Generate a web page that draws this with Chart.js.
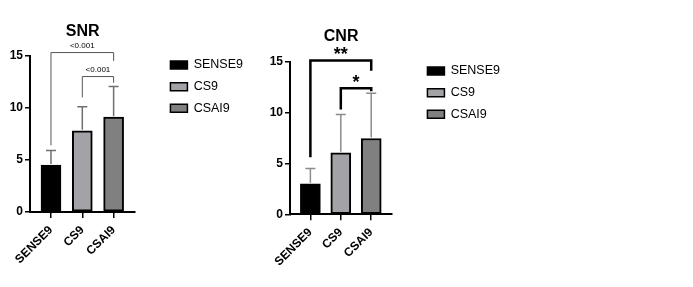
<!DOCTYPE html>
<html>
<head>
<meta charset="utf-8">
<script src="https://cdn.jsdelivr.net/npm/chart.js@4"></script>
<style>
  body { margin: 0; background: #fff; width: 693px; height: 287px; position: relative; overflow: hidden; }
  canvas { position: absolute; top: 0; }
  #snrChart { left: -347px; }
  #cnrChart { left: -90px; }
</style>
</head>
<body>
<canvas id="snrChart" width="600" height="287"></canvas>
<canvas id="cnrChart" width="600" height="287"></canvas>
<script>
    const categories = ["SENSE9", "CS9", "CSAI9"];
    const barColors = ["#000000", "#a3a3a7", "#808080"];
    const yTicks = [0, 5, 10, 15];

    const snrMeans = [4.5, 7.8, 9.1];
    const snrSdTop = [5.9, 10.1, 12.05];
    const snrPairs = [[0, 2], [1, 2]];
    const snrBracketY = [15.3, 13.0];
    const snrLegEnds = [[6.4, 14.5], [11.0, 12.4]];
    const snrLabels = ["<0.001", "<0.001"];

    const cnrMeans = [3.0, 6.05, 7.45];
    const cnrSdTop = [4.5, 9.8, 11.9];
    const cnrPairs = [[0, 2], [1, 2]];
    const cnrBracketY = [15.13, 12.4];
    const cnrLegEnds = [[5.6, 14.1], [10.3, 12.1]];
    const cnrLabels = ["**", "*"];

    Chart.defaults.font.family = 'Arial, "Liberation Sans", sans-serif';
    Chart.defaults.color = "#000";

    // error bars (SD, drawn upward only) + significance brackets
    const extrasPlugin = {
      id: "extras",
      afterDatasetsDraw(chart, args, opts) {
        const ctx = chart.ctx;
        const xs = chart.scales.x, ys = chart.scales.y;
        ctx.save();
        ctx.strokeStyle = opts.errColor;
        ctx.lineWidth = 1.5;
        opts.means.forEach((m, i) => {
          const x = xs.getPixelForValue(i);
          const y0 = ys.getPixelForValue(m) - 1;
          const y1 = ys.getPixelForValue(opts.sdTop[i]);
          ctx.beginPath();
          ctx.moveTo(x, y0); ctx.lineTo(x, y1);
          ctx.moveTo(x - 5, y1); ctx.lineTo(x + 5, y1);
          ctx.stroke();
        });

        ctx.strokeStyle = opts.bracketColor;
        ctx.lineWidth = opts.bracketWidth;
        ctx.fillStyle = "#000";
        ctx.textAlign = "center";
        ctx.textBaseline = "alphabetic";
        ctx.font = opts.labelFont;
        opts.pairs.forEach((p, k) => {
          const xa = xs.getPixelForValue(p[0]);
          const xb = xs.getPixelForValue(p[1]);
          const yb = ys.getPixelForValue(opts.bracketY[k]);
          ctx.beginPath();
          ctx.moveTo(xa, ys.getPixelForValue(opts.legEnds[k][0]));
          ctx.lineTo(xa, yb);
          ctx.lineTo(xb, yb);
          ctx.lineTo(xb, ys.getPixelForValue(opts.legEnds[k][1]));
          ctx.stroke();
          ctx.fillText(opts.labels[k], (xa + xb) / 2, yb - opts.labelGap);
        });
        ctx.restore();
      }
    };

    function makeChart(id, title, means, extras, layout) {
      const ctx = document.getElementById(id).getContext("2d");
      return new Chart(ctx, {
        type: "bar",
        data: {
          labels: categories,
          datasets: [{
            data: means,
            backgroundColor: barColors,
            borderColor: "#000",
            borderWidth: 2,
            borderSkipped: false,
            barThickness: 20
          }]
        },
        plugins: [extrasPlugin],
        options: {
          responsive: false,
          animation: false,
          layout: { padding: 0 },
          plugins: {
            title: {
              display: true,
              text: title,
              fullSize: false,
              color: "#000",
              font: { size: 16, weight: "bold" },
              padding: { top: layout.titleTop, bottom: layout.titleBottom }
            },
            legend: {
              position: "right",
              align: "start",
              title: { display: true, text: "", font: { size: 10 }, padding: { top: layout.legendTop, bottom: 0 } },
              labels: {
                boxWidth: 17,
                boxHeight: 8,
                padding: 9.2,
                color: "#222",
                font: { size: 12.5 },
                generateLabels: (chart) => chart.data.labels.map((l, i) => ({
                  text: l,
                  fillStyle: barColors[i],
                  strokeStyle: "#000",
                  lineWidth: 1.5,
                  hidden: false,
                  index: i
                }))
              }
            },
            tooltip: { enabled: false },
            extras: extras
          },
          scales: {
            x: {
              offset: true,
              grid: { display: true, drawOnChartArea: false, offset: false, tickLength: 6, color: "#000", lineWidth: 1.5 },
              border: { display: true, color: "#000", width: 2 },
              ticks: { autoSkip: false, minRotation: 45, maxRotation: 45, padding: 5, color: "#000", font: { size: 12, weight: "bold" } },
              afterBuildTicks: (s) => { s._startValue = -0.67; s._valueRange = 3.36; },
              afterFit: (s) => { s.height = layout.xHeight; }
            },
            y: {
              min: 0,
              max: 15,
              afterBuildTicks: (s) => { s.ticks = yTicks.map(v => ({ value: v })); },
              grid: { display: true, drawOnChartArea: false, tickLength: 5, color: "#000", lineWidth: 1.5 },
              border: { display: true, color: "#000", width: 2 },
              ticks: { padding: 2, color: "#000", font: { size: 12, weight: "bold" } },
              afterFit: (s) => { s.width = layout.yWidth; }
            },
            gap: {
              type: "linear",
              position: "right",
              grid: { display: false },
              border: { display: false },
              ticks: { display: false },
              afterFit: (s) => { s.width = 26; }
            }
          }
        }
      });
    }

    makeChart("snrChart", "SNR", snrMeans, {
      means: snrMeans, sdTop: snrSdTop, errColor: "#707070",
      pairs: snrPairs, bracketY: snrBracketY, legEnds: snrLegEnds, labels: snrLabels,
      bracketColor: "#555", bracketWidth: 1, labelFont: "8px Arial, 'Liberation Sans', sans-serif", labelGap: 5
    }, { titleTop: 21.5, titleBottom: 15, legendTop: 37.5, xHeight: 75, yWidth: 377 });

    makeChart("cnrChart", "CNR", cnrMeans, {
      means: cnrMeans, sdTop: cnrSdTop, errColor: "#8c8c8c",
      pairs: cnrPairs, bracketY: cnrBracketY, legEnds: cnrLegEnds, labels: cnrLabels,
      bracketColor: "#000", bracketWidth: 2.5, labelFont: "bold 18px Arial, 'Liberation Sans', sans-serif", labelGap: 0
    }, { titleTop: 26.5, titleBottom: 16, legendTop: 43.5, xHeight: 72.7, yWidth: 380 });
</script>
</body>
</html>
